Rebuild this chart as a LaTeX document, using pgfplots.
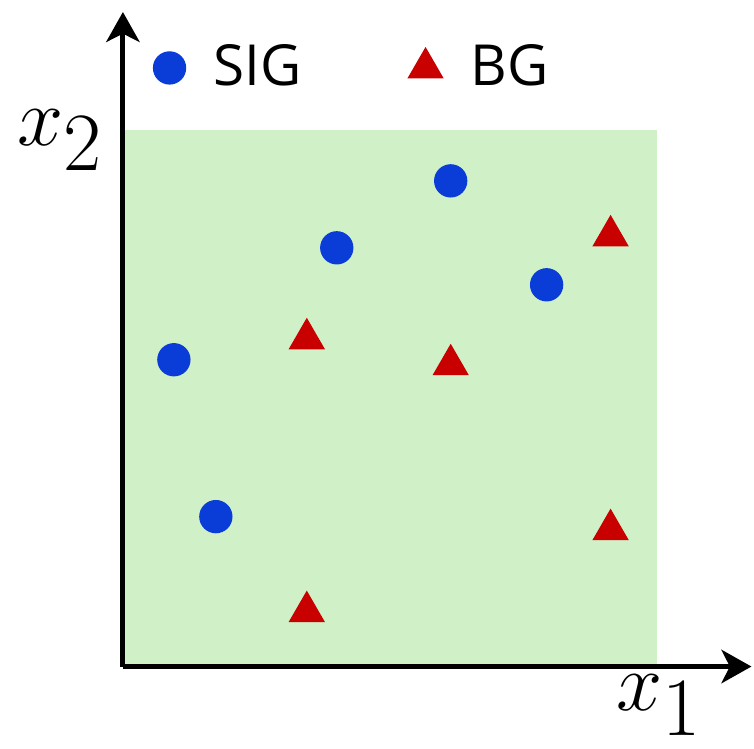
\documentclass[border=0pt]{standalone}
\usepackage{pgfplots}
\pgfplotsset{compat=1.18}
\usetikzlibrary{arrows.meta}
\usepackage{fontspec}
\setsansfont{Open Sans}
\definecolor{sigblue}{RGB}{10,60,215}
\definecolor{bgred}{RGB}{200,0,0}
\definecolor{regiongreen}{RGB}{208,240,200}

\begin{document}
\begin{tikzpicture}
\begin{axis}[
    scale only axis,
    width=188.7pt, height=196.5pt,
    xmin=0, xmax=629, ymin=0, ymax=655,
    axis lines=left,
    axis line style={line width=1.5pt, -{Stealth[length=9pt,width=10pt,inset=2.5pt]}},
    xtick=\empty, ytick=\empty,
    clip=false,
    axis on top,
    legend columns=2,
    legend style={draw=none, fill=none, at={(axis cs:20,599)}, anchor=west,
        font=\sffamily\fontsize{17}{17}\selectfont,
        /tikz/every odd column/.append style={column sep=6.5pt},
        /tikz/every even column/.append style={column sep=30pt}},
    legend image code/.code={\draw[#1] plot coordinates {(0pt,0pt)};},
]
    % shaded region
    \addplot[fill=regiongreen, draw=none, forget plot]
        coordinates {(0,0) (534,0) (534,537) (0,537)} -- cycle;

    \addplot[only marks, mark=*, mark size=4.8pt, color=sigblue]
        coordinates {
            (51,307)
            (93,150)
            (214,419)
            (328,486)
            (424,382)
        };

    \addplot[only marks, mark=triangle*, mark size=5.9pt, color=bgred]
        coordinates {
            (184,328)
            (184,55)
            (328,302)
            (488,431)
            (488,137)
        };

    \legend{SIG, BG}

    \node at (axis cs:-63,527) {\fontsize{24}{24}\selectfont $x_{\textstyle 2}$};
    \node at (axis cs:537,-39) {\fontsize{24}{24}\selectfont $x_{\textstyle 1}$};

    \path (axis cs:-123,-82) rectangle (axis cs:631,667);
\end{axis}
\end{tikzpicture}
\end{document}
